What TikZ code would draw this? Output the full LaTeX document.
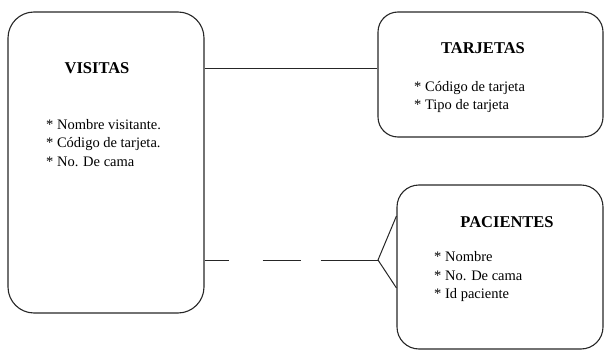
\documentclass[tikz,border=0pt]{standalone}
\usepackage{fontspec}
\setmainfont{Liberation Serif}
\begin{document}
\begin{tikzpicture}[x=1pt,y=-1pt,
  entity/.style={draw=black!85, line width=1.1pt, rounded corners=26pt},
  title/.style={font=\fontsize{16.5}{19}\selectfont\bfseries, inner sep=0pt},
  items/.style={font=\fontsize{14.5}{18.5}\selectfont, align=left, anchor=west, inner sep=0pt},
  link/.style={draw=black!85, line width=1pt}]
\useasboundingbox (0,0) rectangle (605,353);
% entity boxes
\node[entity, minimum width=196pt, minimum height=301pt] (visitas) at (106,162.5) {};
\node[entity, minimum width=225pt, minimum height=125pt, rounded corners=20pt] (tarjetas) at (490.5,74.5) {};
\node[entity, minimum width=206pt, minimum height=164pt, rounded corners=22pt] (pacientes) at (500,267) {};
% titles
\node[title] (tv) at (97,68) {VISITAS};
\node[title] (tt) at (483,48) {TARJETAS};
\node[title] (tp) at (507,222) {PACIENTES};
% attributes
\node[items] (lv) at (46,143) {* Nombre visitante.\\* Código de tarjeta.\\* No. De cama};
\node[items] (lt) at (414,97) {* Código de tarjeta\\* Tipo de tarjeta};
\node[items] (lp) at (434,277) {* Nombre\\* No. De cama\\* Id paciente};
% connectors
\coordinate (crow) at (378,260);
\draw[link] (visitas.east |- 0,69) -- (tarjetas.west |- 0,69);
\draw[link, dash pattern=on 24pt off 34pt on 38pt off 20pt on 60pt] (visitas.east |- crow) -- (crow);
\draw[link] (pacientes.west |- 0,216) -- (crow) -- (pacientes.west |- 0,288);
\end{tikzpicture}
\end{document}
